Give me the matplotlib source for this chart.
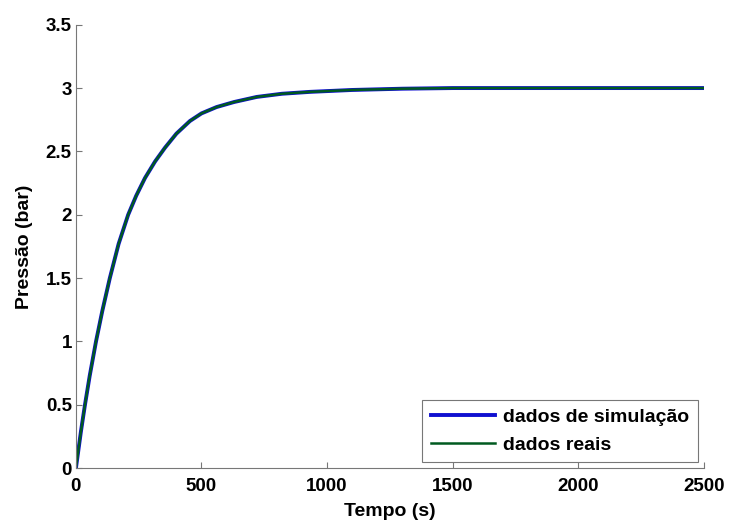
import matplotlib
matplotlib.use("Agg")
import matplotlib.pyplot as plt

plt.rcParams['font.family'] = ['Liberation Sans', 'DejaVu Sans']
plt.rcParams['font.weight'] = 'bold'

# values
tempo = [0, 20, 36, 55, 80, 105, 135, 170, 208, 240, 275, 315, 355, 400, 454,
         500, 560, 630, 720, 820, 932, 1100, 1300, 1500, 2000, 2500]
p_sim = [0, 0.29, 0.5, 0.73, 1.0, 1.24, 1.5, 1.77, 2.0, 2.15, 2.29, 2.42, 2.53, 2.64, 2.74,
         2.80, 2.85, 2.89, 2.93, 2.955, 2.97, 2.985, 2.995, 3.0, 3.0, 3.0]
p_real = [0, 0.29, 0.5, 0.73, 1.0, 1.24, 1.5, 1.77, 2.0, 2.15, 2.29, 2.42, 2.53, 2.64, 2.74,
          2.80, 2.85, 2.89, 2.93, 2.955, 2.97, 2.985, 2.995, 3.0, 3.0, 3.0]

fig = plt.figure(figsize=(7.3, 5.26), dpi=100)
ax = fig.add_axes([0.104, 0.110, 0.860, 0.843])

ax.plot(tempo, p_sim, color='#1010d0', lw=2.8, label='dados de simulação')
ax.plot(tempo, p_real, color='#005a20', lw=1.8, label='dados reais')

ax.set_xlim(0, 2500)
ax.set_ylim(0, 3.5)
ax.set_xticks([0, 500, 1000, 1500, 2000, 2500])
ax.set_yticks([0, 0.5, 1, 1.5, 2, 2.5, 3, 3.5])
ax.set_yticklabels(['0', '0.5', '1', '1.5', '2', '2.5', '3', '3.5'])
ax.tick_params(direction='in', length=4, labelsize=13.5, color='#777777')
ax.tick_params(axis='x', pad=7)
ax.tick_params(axis='y', pad=3)
for s in ['top', 'right']:
    ax.spines[s].set_visible(False)
for s in ['left', 'bottom']:
    ax.spines[s].set_color('#777777')
    ax.spines[s].set_linewidth(0.8)

ax.set_xlabel('Tempo (s)', fontsize=14, fontweight='bold', labelpad=6)
ax.set_ylabel('Pressão (bar)', fontsize=14, fontweight='bold', labelpad=9)

leg = ax.legend(loc='lower right', fontsize=14, fancybox=False, framealpha=1,
                edgecolor='#777777', handlelength=3.3, borderaxespad=0.3,
                handletextpad=0.4, labelspacing=0.5, borderpad=0.45)
leg.get_frame().set_linewidth(0.8)

plt.savefig('out.png', dpi=100)
